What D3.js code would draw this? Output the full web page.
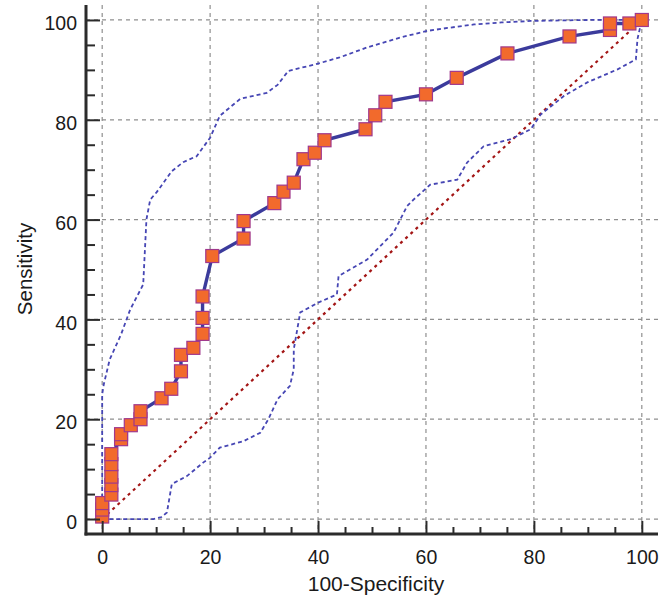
<!DOCTYPE html>
<html>
  <head>
    <meta charset="utf-8">
    <title>ROC curve</title>
    <style>
      body { margin: 0; background: #fff; }
      text { font-family: Arial, "Liberation Sans", sans-serif; fill: #1a1a1a; }
    </style>
  </head>
  <body>
    <!-- Load d3.js -->
    <script src="https://d3js.org/d3.v7.min.js"></script>
    <svg id="my_dataviz" width="669" height="600"></svg>
    <script>

      // ROC curve points (100-Specificity, Sensitivity)
      var rocX = [0, 0, 0, 1.7, 1.7, 1.7, 1.7, 1.7, 3.5, 3.5, 5.3, 7.1, 7.1, 11.0, 12.8, 14.6, 14.6, 16.9,
                  18.6, 18.6, 18.6, 20.4, 26.2, 26.2, 31.9, 33.6, 35.5, 37.3, 39.4, 41.2, 48.8, 50.6,
                  52.5, 60.0, 65.7, 75.1, 86.6, 94.1, 94.1, 97.7, 100];
      var rocY = [0.5, 1.9, 3.2, 4.9, 6.8, 8.5, 11.0, 13.0, 16.0, 17.0, 18.8, 20.0, 21.6, 24.2, 26.1, 29.6, 32.9, 34.3,
                  37.1, 40.3, 44.6, 52.7, 56.2, 59.7, 63.3, 65.6, 67.4, 72.1, 73.4, 75.9, 78.1, 80.9,
                  83.6, 85.1, 88.4, 93.3, 96.7, 98.0, 99.3, 99.3, 100];

      // 95% confidence bounds
      var upperX = [0, 0, 0.3, 1.4, 3.5, 5.2, 7.6, 8.2, 8.9, 10.1, 12.9, 15.0, 17.5, 20.0, 21.8, 23.7, 25.6,
                    30.5, 32.5, 34.5, 39.5, 44.0, 49.1, 55.3, 60.2, 64.0, 68.9, 74.0, 79.4, 90.0, 100];
      var upperY = [0, 25, 27, 32, 37, 42, 47, 60, 64, 65.5, 69.7, 71.5, 72.7, 76.4, 80.8, 82.5, 84.2,
                    85.4, 87.0, 89.8, 91.1, 92.5, 94.5, 96.5, 97.8, 98.4, 99.1, 99.5, 99.8, 100, 100];

      var lowerX = [0, 9.5, 11.0, 12.0, 12.9, 15.7, 18.7, 20.0, 21.8, 26.2, 29.3, 30.8, 32.5, 34.8, 35.5, 35.5,
                    36.7, 40.1, 43.5, 43.8, 49.1, 54.0, 56.5, 57.7, 60.8, 65.8, 67.6, 70.7, 75.7, 79.4,
                    81.3, 85.6, 89.9, 95.5, 98.9, 99.2, 100];
      var lowerY = [0, 0, 0.4, 1.3, 7.0, 8.6, 11.3, 12.3, 14.3, 15.6, 17.3, 20.0, 24.0, 26.7, 30.0, 34.0,
                    41.4, 43.4, 45.0, 48.7, 52.0, 57.4, 62.7, 64.0, 67.0, 68.0, 71.4, 74.7, 76.1, 78.1,
                    81.1, 84.8, 87.5, 90.1, 92.1, 96.2, 100];

      // tick labels
      var majorTicks = [0, 20, 40, 60, 80, 100];
      var minorTicks = [5, 10, 15, 25, 30, 35, 45, 50, 55, 65, 70, 75, 85, 90, 95];

      var svg = d3.select("svg");

      var pLeft = 86, pRight = 658, pTop = 5, pBottom = 534;

      var x = d3.scaleLinear().domain([-3, 103]).range([pLeft, pRight]);
      var y = d3.scaleLinear().domain([-3, 103]).range([pBottom, pTop]);

      // grid
      var grid = svg.append("g")
        .attr("stroke", "#8f8f8f")
        .attr("stroke-width", 1.2)
        .attr("stroke-dasharray", "4,4");
      grid.selectAll(".gv").data(majorTicks).enter().append("line")
        .attr("x1", d => x(d)).attr("x2", d => x(d))
        .attr("y1", pTop).attr("y2", pBottom);
      grid.selectAll(".gh").data(majorTicks).enter().append("line")
        .attr("y1", d => y(d)).attr("y2", d => y(d))
        .attr("x1", pLeft).attr("x2", pRight);

      var line = d3.line().x(d => x(d[0])).y(d => y(d[1]));

      // diagonal reference line
      svg.append("path")
        .datum([[0, 0], [100, 100]])
        .attr("d", line)
        .attr("fill", "none")
        .attr("stroke", "#a31515")
        .attr("stroke-width", 2.2)
        .attr("stroke-dasharray", "3,4");

      // confidence bounds
      [[upperX, upperY], [lowerX, lowerY]].forEach(function (b) {
        svg.append("path")
          .datum(d3.zip(b[0], b[1]))
          .attr("d", line)
          .attr("fill", "none")
          .attr("stroke", "#4646b4")
          .attr("stroke-width", 1.8)
          .attr("stroke-dasharray", "4,3");
      });

      // ROC curve
      var roc = d3.zip(rocX, rocY);
      svg.append("path")
        .datum(roc)
        .attr("d", line)
        .attr("fill", "none")
        .attr("stroke", "#3b3b9c")
        .attr("stroke-width", 3.4);

      var s = 13;
      svg.append("g")
        .selectAll("rect")
        .data(roc)
        .enter()
        .append("rect")
          .attr("x", d => x(d[0]) - s / 2)
          .attr("y", d => y(d[1]) - s / 2)
          .attr("width", s)
          .attr("height", s)
          .attr("fill", "#f26a2c")
          .attr("stroke", "#a0388c")
          .attr("stroke-width", 1.2);

      // axes
      var xAxis = svg.append("g")
        .attr("transform", "translate(0," + pBottom + ")")
        .call(d3.axisBottom(x).tickValues(majorTicks).tickSize(-13).tickPadding(16));
      svg.append("g")
        .attr("transform", "translate(0," + pBottom + ")")
        .call(d3.axisBottom(x).tickValues(minorTicks).tickSize(-7).tickFormat(""));

      var yAxis = svg.append("g")
        .attr("transform", "translate(" + pLeft + ",0)")
        .call(d3.axisLeft(y).tickValues(majorTicks).tickSize(-14).tickPadding(9));
      svg.append("g")
        .attr("transform", "translate(" + pLeft + ",0)")
        .call(d3.axisLeft(y).tickValues(minorTicks).tickSize(-9).tickFormat(""));

      svg.selectAll(".domain").remove();
      svg.selectAll(".tick line").attr("stroke", "#2b2b2b").attr("stroke-width", 2);
      svg.selectAll(".tick text").style("font-size", "19.5px").attr("fill", "#1a1a1a");
      yAxis.selectAll(".tick text").attr("dy", "0.5em");

      // axis lines
      svg.append("line")
        .attr("x1", pLeft).attr("x2", pLeft).attr("y1", pTop).attr("y2", pBottom + 1.5)
        .attr("stroke", "#2b2b2b").attr("stroke-width", 3);
      svg.append("line")
        .attr("x1", pLeft - 1.5).attr("x2", pRight).attr("y1", pBottom).attr("y2", pBottom)
        .attr("stroke", "#2b2b2b").attr("stroke-width", 3);

      // titles
      svg.append("text")
        .attr("x", 376).attr("y", 591)
        .attr("text-anchor", "middle")
        .style("font-size", "21px")
        .text("100-Specificity");
      svg.append("text")
        .attr("transform", "translate(32,269) rotate(-90)")
        .attr("text-anchor", "middle")
        .style("font-size", "20.5px")
        .text("Sensitivity");

    </script>
  </body>
</html>
